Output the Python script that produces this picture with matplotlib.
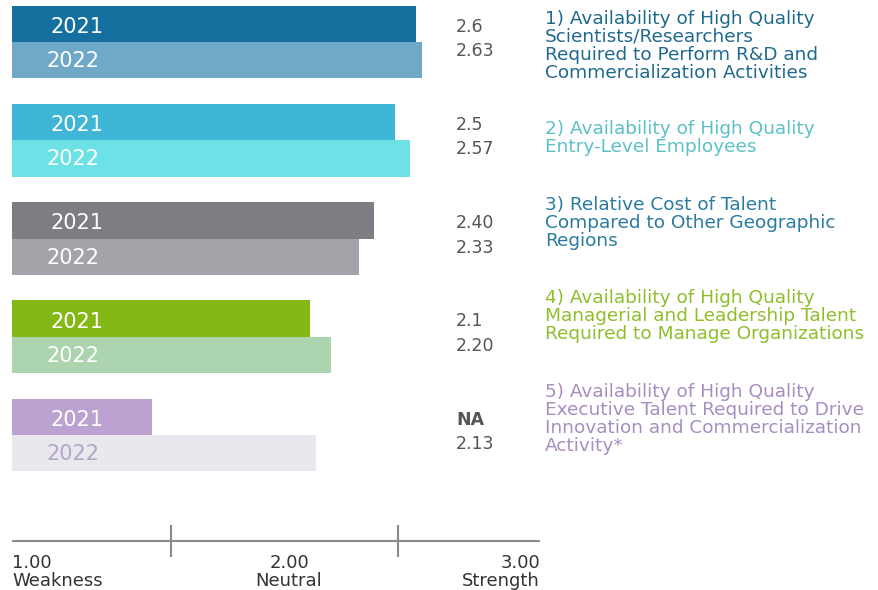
import matplotlib.pyplot as plt
from matplotlib.transforms import blended_transform_factory

plt.rcParams['font.family'] = ['DejaVu Sans']

# Data
categories = [
    "1) Availability of High Quality\nScientists/Researchers\nRequired to Perform R&D and\nCommercialization Activities",
    "2) Availability of High Quality\nEntry-Level Employees",
    "3) Relative Cost of Talent\nCompared to Other Geographic\nRegions",
    "4) Availability of High Quality\nManagerial and Leadership Talent\nRequired to Manage Organizations",
    "5) Availability of High Quality\nExecutive Talent Required to Drive\nInnovation and Commercialization\nActivity*",
]
years = ["2021", "2022"]
values_2021 = [2.6, 2.5, 2.40, 2.1, 1.35]   # last one is NA (short placeholder bar)
values_2022 = [2.63, 2.57, 2.33, 2.20, 2.13]
labels_2021 = ["2.6", "2.5", "2.40", "2.1", "NA"]
labels_2022 = ["2.63", "2.57", "2.33", "2.20", "2.13"]

# Styles
colors_2021 = ["#1570a0", "#3fb6d6", "#7e7d83", "#84b816", "#bca2d0"]
colors_2022 = ["#70a9c8", "#6ce2e6", "#a4a3a9", "#acd4ae", "#e9e8ee"]
year_text_2022 = ["white", "white", "white", "white", "#b5a6c6"]
cat_colors = ["#1e6a8e", "#5cc0c7", "#2a7ba0", "#8cbf2a", "#a78dc2"]

W, H = 879, 590
fig = plt.figure(figsize=(W / 100, H / 100), dpi=100)

# bar area: pixels x 12..540, y 0..490
ax = fig.add_axes([12 / W, 1 - 490 / H, 528 / W, 490 / H])
xmin, xmax = 0.69, 3.187
pitch = 98.25
ax.set_xlim(xmin, xmax)
ax.set_ylim((490 - 42) / pitch, -42 / pitch)
ax.axis('off')

bh = 0.37
ys = list(range(len(categories)))
y21 = [y - bh / 2 for y in ys]
y22 = [y + bh / 2 for y in ys]
ax.barh(y21, values_2021, height=bh, color=colors_2021)
ax.barh(y22, values_2022, height=bh, color=colors_2022)

tr_ax = blended_transform_factory(ax.transAxes, ax.transData)
tr_fig = blended_transform_factory(fig.transFigure, ax.transData)

for i in ys:
    ax.text((50 - 12) / 528, y21[i] + 0.03, years[0], transform=tr_ax,
            color="white", fontsize=15, va='center', ha='left')
    ax.text((47 - 12) / 528, y22[i] + 0.01, years[1], transform=tr_ax,
            color=year_text_2022[i], fontsize=15, va='center', ha='left')

    # value labels
    bold = 'bold' if labels_2021[i] == "NA" else 'normal'
    ax.text(456 / W, i - 15.5 / pitch, labels_2021[i], transform=tr_fig,
            color="#555555", fontsize=12.5, va='center', ha='left', fontweight=bold)
    ax.text(456 / W, i + 9 / pitch, labels_2022[i], transform=tr_fig,
            color="#555555", fontsize=12.5, va='center', ha='left')

# category descriptions
text_centers = [45.5, 138, 223, 316, 418.5]
for i, txt in enumerate(categories):
    ax.text(545 / W, (text_centers[i] - 42) / pitch, txt, transform=tr_fig,
            color=cat_colors[i], fontsize=13.3, va='center', ha='left',
            linespacing=1.0)

# bottom scale
ax_s = fig.add_axes([12 / W, 0, 528 / W, 90 / H])
ax_s.set_xlim(xmin, xmax)
ax_s.set_ylim(590, 500)
ax_s.axis('off')
ax_s.plot([xmin, xmax], [541, 541], color="#8a8a8a", lw=1.5, solid_capstyle='butt')
ax_s.vlines([1.442, 2.515], 525, 557, color="#8a8a8a", lw=1.5)
ax_s.text(xmin, 572, "1.00\nWeakness", ha='left', va='center', fontsize=13,
          color="#333333", linespacing=1.05)
ax_s.text(2.0, 572, "2.00\nNeutral", ha='center', va='center', fontsize=13,
          color="#333333", linespacing=1.05, multialignment='center')
ax_s.text(xmax, 572, "3.00\nStrength", ha='right', va='center', fontsize=13,
          color="#333333", linespacing=1.05, multialignment='right')

plt.savefig("out.png", dpi=100)
